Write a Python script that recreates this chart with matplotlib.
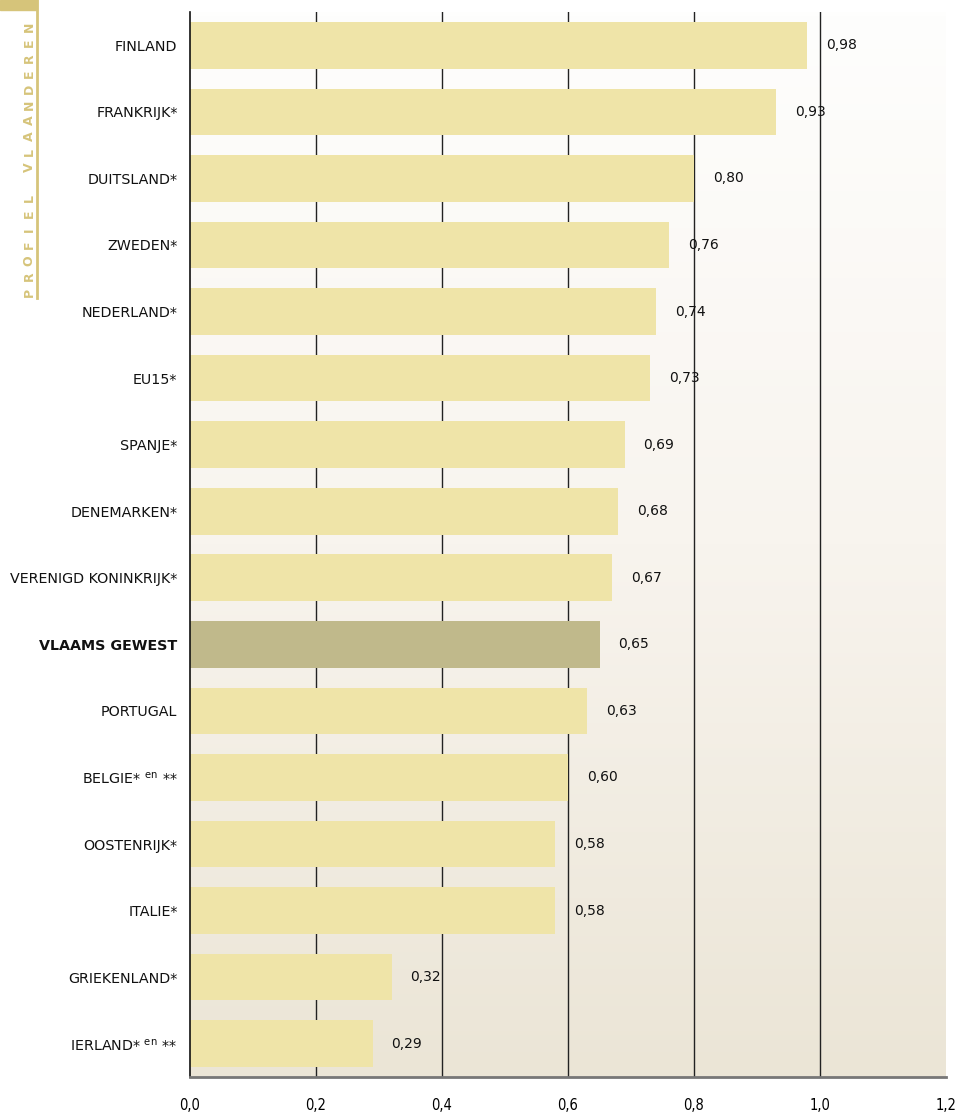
import matplotlib.pyplot as plt
import numpy as np
from matplotlib.colors import LinearSegmentedColormap

landen = ['FINLAND', 'FRANKRIJK*', 'DUITSLAND*', 'ZWEDEN*', 'NEDERLAND*', 'EU15*',
          'SPANJE*', 'DENEMARKEN*', 'VERENIGD KONINKRIJK*', 'VLAAMS GEWEST',
          'PORTUGAL', r'BELGIE* $^{\mathrm{en}}$ **', 'OOSTENRIJK*', 'ITALIE*',
          'GRIEKENLAND*', r'IERLAND* $^{\mathrm{en}}$ **']
waarden = [0.98, 0.93, 0.80, 0.76, 0.74, 0.73, 0.69, 0.68, 0.67, 0.65,
           0.63, 0.60, 0.58, 0.58, 0.32, 0.29]
labels = ['0,98', '0,93', '0,80', '0,76', '0,74', '0,73', '0,69', '0,68', '0,67',
          '0,65', '0,63', '0,60', '0,58', '0,58', '0,32', '0,29']
ticks = [0.0, 0.2, 0.4, 0.6, 0.8, 1.0, 1.2]
tick_labels = ['0,0', '0,2', '0,4', '0,6', '0,8', '1,0', '1,2']
highlight = 'VLAAMS GEWEST'
zijtitel = 'PROFIEL VLAANDEREN'

fig = plt.figure(figsize=(9.59, 11.15), dpi=100)
ax = fig.add_axes([190 / 959, 38 / 1115, 756 / 959, 1065 / 1115])

# achtergrond met verloop
cmap = LinearSegmentedColormap.from_list('bg', ['#fefefd', '#f8f4ee', '#ebe5d6'])
grad = np.linspace(0, 1, 256).reshape(-1, 1)
ax.imshow(grad, cmap=cmap, aspect='auto', extent=[0, 1, 0, 1],
          transform=ax.transAxes, zorder=0)

y = np.arange(len(landen))
kleuren = ['#c0b98b' if l == highlight else '#efe4a8' for l in landen]
ax.barh(y, waarden, height=0.7, color=kleuren, zorder=2)

for xv in ticks[1:-1]:
    ax.axvline(xv, color='#222222', lw=1, zorder=1)

for yi, v, t in zip(y, waarden, labels):
    ax.text(v + 0.03, yi, t, va='center', ha='left', fontsize=10, color='#111111', zorder=3)

ax.set_xlim(0, 1.2)
ax.set_ylim(len(landen) - 0.5, -0.5)
ax.set_yticks(y)
ax.set_yticklabels(landen, fontsize=10.3, color='#111111')
for lab in ax.get_yticklabels():
    if lab.get_text() == highlight:
        lab.set_fontweight('bold')
ax.tick_params(axis='y', length=0, pad=9)
ax.set_xticks(ticks)
ax.set_xticklabels(tick_labels, fontsize=10.5, fontstretch='condensed')
ax.tick_params(axis='x', length=0, pad=15)

for s in ['top', 'right']:
    ax.spines[s].set_visible(False)
ax.spines['left'].set_color('#111111')
ax.spines['left'].set_linewidth(1.2)
ax.spines['bottom'].set_color('#777777')
ax.spines['bottom'].set_linewidth(2)

# zijbalk
goud = '#d6c47a'
fig.patches.append(plt.Rectangle((0, 1 - 10 / 1115), 37 / 959, 10 / 1115,
                                 transform=fig.transFigure, color=goud))
fig.lines.append(plt.Line2D([37 / 959, 37 / 959], [1, 1 - 298 / 1115],
                            transform=fig.transFigure, color=goud, lw=2))
for i, ch in enumerate(zijtitel):
    fig.text(29 / 959, 1 - (292 - i * 15.6) / 1115, ch, rotation=90,
             ha='center', va='center', fontsize=9, fontweight='bold', color=goud)

plt.savefig('out.png', dpi=100)
